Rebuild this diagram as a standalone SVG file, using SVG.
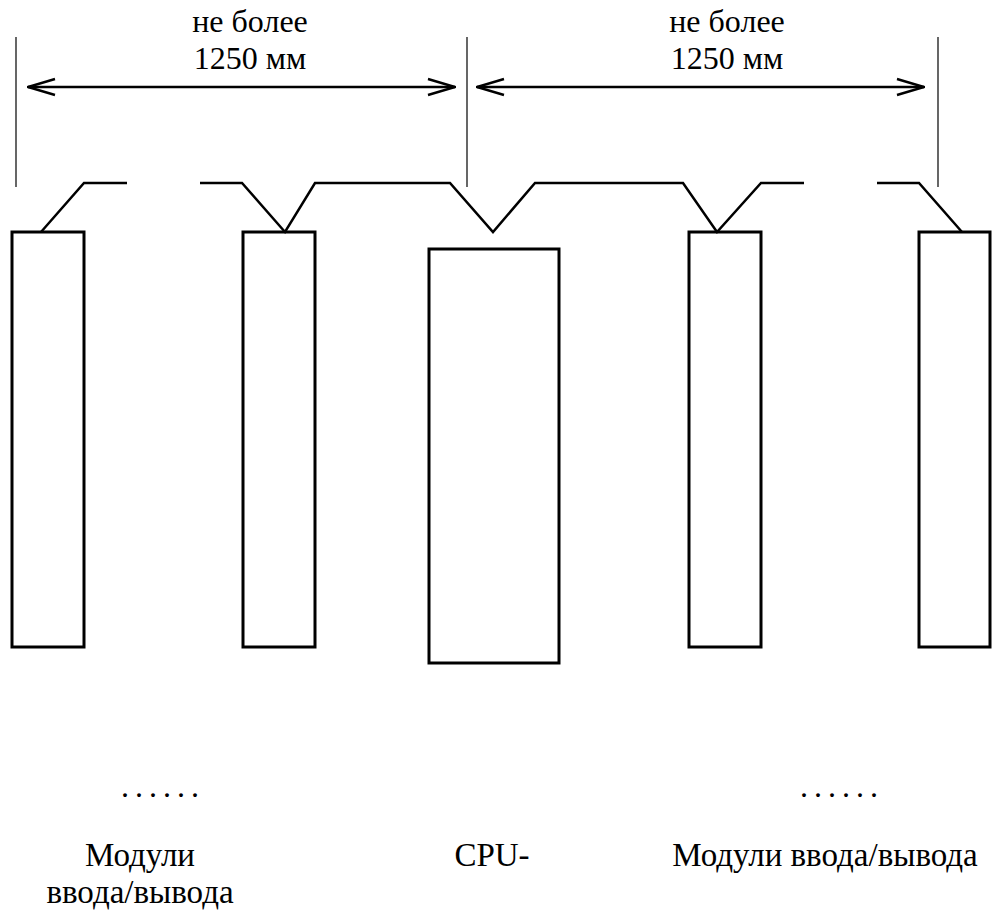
<svg xmlns="http://www.w3.org/2000/svg" width="992" height="910" viewBox="0 0 992 910">
<style>
.t{font-family:"Liberation Serif","DejaVu Serif",serif;font-size:32px;fill:#000;text-anchor:middle}
.b{font-size:33px}
.dots{letter-spacing:6px}
.box{fill:none;stroke:#000;stroke-width:3}
.cable{fill:none;stroke:#000;stroke-width:2.5;stroke-linejoin:miter}
.guide{stroke:#000;stroke-width:1.2}
.dim{stroke:#000;stroke-width:2.5;fill:none}
</style>
<defs>
<marker id="ah" viewBox="0 0 30 20" refX="29" refY="10" markerWidth="30" markerHeight="20" markerUnits="userSpaceOnUse" orient="auto-start-reverse">
<path d="M2,2 L29,10 L2,18" fill="none" stroke="#000" stroke-width="2.5"/>
</marker>
</defs>
<rect width="992" height="910" fill="#fff"/>
<g id="dimensions">
<line class="guide" x1="16" y1="37" x2="16" y2="187"/>
<line class="guide" x1="467" y1="37" x2="467" y2="187"/>
<line class="guide" x1="938" y1="37" x2="938" y2="187"/>
<line class="dim" x1="28" y1="87" x2="455" y2="87" marker-start="url(#ah)" marker-end="url(#ah)"/>
<line class="dim" x1="477" y1="87" x2="924" y2="87" marker-start="url(#ah)" marker-end="url(#ah)"/>
<text class="t" x="250" y="32">не более</text>
<text class="t" x="250" y="69">1250 мм</text>
<text class="t" x="727" y="32">не более</text>
<text class="t" x="727" y="69">1250 мм</text>
</g>
<g id="m1"><rect class="box" x="12" y="232" width="72" height="415"/></g>
<g id="m2"><rect class="box" x="243" y="232" width="72" height="415"/></g>
<g id="cpu"><rect class="box" x="429" y="249" width="130" height="414"/></g>
<g id="m4"><rect class="box" x="689" y="232" width="72" height="415"/></g>
<g id="m5"><rect class="box" x="919" y="232" width="71" height="415"/></g>
<g id="connectors">
<polyline class="cable" points="41,232 84,183 127,183"/>
<polyline class="cable" points="200,183 242,183 285,232 315,183 450,183 493,232 535,183 683,183 717,232 761,183 804,183"/>
<polyline class="cable" points="877,183 919,183 962,232"/>
</g>
<g id="labels">
<text class="t dots" x="163" y="797">......</text>
<text class="t dots" x="842" y="797">......</text>
<text class="t b" x="140" y="866">Модули</text>
<text class="t b" x="140" y="903">ввода/вывода</text>
<text class="t b" x="492" y="866">CPU-</text>
<text class="t b" x="825" y="866">Модули ввода/вывода</text>
</g>
</svg>
